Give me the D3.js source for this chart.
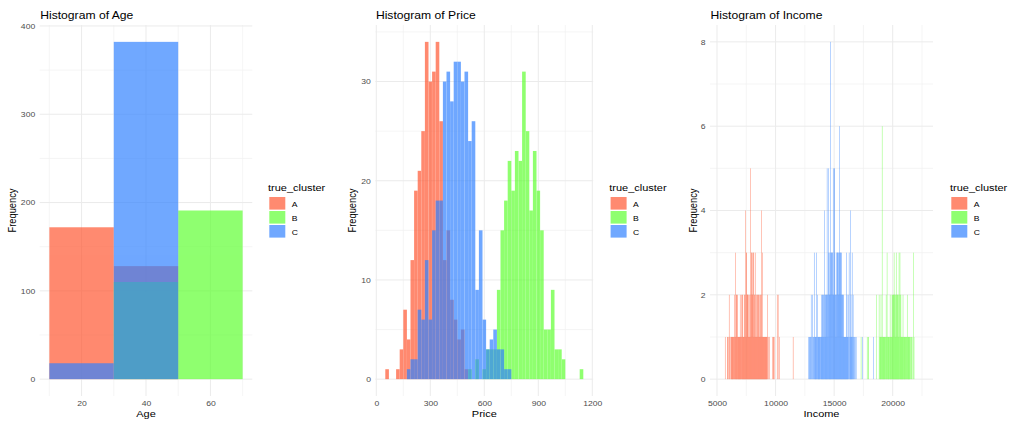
<!DOCTYPE html>
<html>
<head>
<meta charset="utf-8">
<script src="https://cdn.jsdelivr.net/npm/d3@7"></script>
<style>
body { margin: 0; background: #fff; }
text { font-family: "Liberation Sans", Arial, sans-serif; }
</style>
</head>
<body>
<svg width="1009" height="421"></svg>
<script>
// ---- data ----
const clusters = ['A', 'B', 'C'];
const clusterColors = ['#FF5833', '#60FF33', '#3383FF'];

// Age: bins of width 20
const ageEdges = [10, 30, 50, 70];
const ageA = [172, 128, 0];
const ageB = [0, 110, 191];
const ageC = [18, 382, 0];

// Price: bins of width 20, first bin 50-70 (centre 60) ... last 1130-1150
const priceFirstEdge = 50;
const priceA = [1, 0, 0, 1, 3, 7, 4, 12, 19, 21, 25, 34, 30, 31, 34, 26, 12, 15, 8, 6, 4, 5, 1,
  0, 0, 0, 0, 0, 0, 0, 0, 0, 0, 0, 0, 0, 0, 0, 0, 0, 0, 0, 0, 0, 0, 0, 0, 0, 0, 0, 0, 0, 0, 0, 0];
const priceB = [0, 0, 0, 0, 0, 0, 0, 0, 0, 0, 0, 0, 0, 0, 0, 0, 0, 0, 0, 0, 0, 0, 0,
  1, 0, 2, 0, 1, 3, 3, 3, 9, 15, 18, 22, 19, 23, 22, 31, 25, 17, 23, 19, 15, 5, 5, 9, 3, 3, 2,
  0, 0, 0, 0, 1];
const priceC = [0, 0, 0, 0, 0, 0, 1, 2, 2, 7, 6, 12, 6, 15, 18, 18, 30, 31, 28, 32, 32, 30, 31,
  24, 26, 9, 15, 6, 3, 4, 5, 3, 3, 1, 1, 0, 0, 0, 0, 0, 0, 0, 0, 0, 0, 0, 0, 0, 0, 0, 0, 0, 0, 0, 0];

// Income: bins of width 20, [bin start, count] for the non-empty bins
const incomeA = [
  [5680,1],[5860,1],[5880,1],[5940,1],[6020,2],[6040,1],[6120,1],
  [6200,1],[6220,1],[6240,1],[6260,1],[6280,1],[6300,1],[6320,1],[6340,1],
  [6380,1],[6400,1],[6420,1],[6460,2],[6480,1],[6500,1],
  [6540,3],[6560,1],[6580,1],[6600,1],[6620,2],[6640,2],[6660,1],[6680,2],
  [6720,2],[6740,1],[6760,1],[6780,1],[6800,1],[6820,1],[6840,1],[6860,1],
  [6880,1],[6900,1],[6920,1],[6940,1],[6960,2],[6980,1],[7000,1],[7020,1],
  [7060,2],[7080,1],[7100,1],[7120,1],[7140,2],[7160,2],[7180,1],[7200,1],
  [7220,1],[7240,1],[7260,1],[7280,1],[7300,2],[7320,1],[7340,2],[7360,1],
  [7380,1],[7400,4],[7420,2],[7440,1],[7460,1],[7480,3],[7500,3],[7520,1],[7540,2],
  [7560,2],[7580,2],[7600,2],[7620,2],[7640,2],[7660,1],[7680,1],[7700,1],
  [7720,1],[7740,2],[7760,1],[7780,1],[7800,1],[7820,5],[7840,1],[7860,2],[7880,1],
  [7900,3],[7920,3],[7940,2],[7960,1],[7980,2],[8000,3],[8020,2],[8040,2],[8060,1],
  [8080,3],[8100,1],[8120,3],[8140,1],[8160,2],[8180,1],[8200,2],[8220,1],
  [8240,3],[8260,1],[8280,1],[8300,2],[8320,1],[8340,2],[8360,1],[8380,1],[8400,1],
  [8420,2],[8440,1],[8460,2],[8480,1],[8500,2],[8520,2],[8540,1],[8560,1],
  [8580,2],[8600,1],[8620,1],[8640,1],[8660,2],[8680,2],[8700,1],[8720,1],[8740,1],
  [8760,4],[8780,2],[8800,1],[8820,1],[8840,1],[8860,3],[8880,1],[8900,1],[8920,1],
  [8940,1],[8960,1],[8980,1],[9000,1],[9020,1],[9040,1],[9060,1],[9080,1],
  [9100,1],[9120,1],[9140,1],[9160,1],[9180,1],[9200,1],[9220,1],[9240,1],[9260,1],
  [9300,2],[9360,1],[9440,1],[9700,1],[9780,1],[9800,1],[9860,1],
  [10120,2],[10200,2],[10300,1],[11480,1]
];
const incomeB = [
  [17280,1],[17800,1],[17880,1],[17900,1],[18580,2],[18820,2],[18840,1],
  [18900,1],[18920,1],[18940,1],[18960,1],[18980,2],[19000,1],[19040,1],
  [19060,1],[19080,6],[19100,1],[19120,1],[19160,1],[19180,1],[19200,1],[19220,1],
  [19240,1],[19260,1],[19280,1],[19300,1],[19340,1],[19360,1],
  [19400,1],[19420,2],[19440,1],[19460,1],[19500,3],[19520,1],[19560,1],
  [19580,1],[19600,1],[19620,1],[19640,1],[19660,1],[19700,1],[19720,1],
  [19760,2],[19780,1],[19800,1],[19820,1],[19840,1],[19860,1],[19880,1],
  [19920,2],[19940,1],[19960,2],[19980,1],[20000,2],[20020,2],[20040,2],[20060,2],[20080,1],
  [20100,3],[20120,2],[20140,1],[20160,2],[20180,2],[20200,1],[20220,2],[20240,1],
  [20260,1],[20280,3],[20300,2],[20320,1],[20340,2],[20360,2],[20380,1],[20400,2],
  [20420,2],[20440,1],[20460,2],[20480,1],[20500,1],[20520,3],[20540,2],[20560,1],
  [20600,3],[20620,1],[20640,2],[20660,1],[20680,2],[20700,1],[20720,1],[20740,1],
  [20760,1],[20780,1],[20800,1],[20820,1],[20840,1],[20860,2],[20880,1],[20900,1],
  [20940,1],[20960,1],[20980,1],[21000,1],[21020,1],[21040,1],[21060,1],[21080,1],
  [21120,1],[21140,1],[21160,1],[21200,1],[21220,2],[21240,1],
  [21280,1],[21300,1],[21320,1],[21340,1],[21360,1],[21380,1],[21400,1],[21420,1],
  [21460,1],[21500,1],[21560,1],[21580,1],[21640,1],[21740,3],[21800,1]
];
const incomeC = [
  [12780,1],[12860,1],[12900,1],[12940,1],[12980,1],[13020,2],[13060,1],
  [13120,2],[13160,1],[13200,1],[13240,1],[13280,3],[13300,1],[13340,1],
  [13360,1],[13380,1],[13400,1],[13420,1],[13460,3],[13480,1],[13500,1],
  [13540,2],[13560,1],[13600,1],[13620,1],[13640,1],[13660,1],[13680,1],
  [13700,1],[13720,1],[13740,1],[13760,1],[13800,1],[13820,1],[13860,1],
  [13880,2],[13900,1],[13920,1],[13940,1],[13960,2],[13980,2],[14000,1],[14020,1],
  [14040,2],[14060,1],[14080,2],[14100,1],[14140,4],[14160,1],[14180,2],[14200,1],
  [14220,2],[14240,2],[14260,1],[14280,1],[14300,2],[14320,2],[14340,2],[14360,1],
  [14380,5],[14400,2],[14420,2],[14440,1],[14480,5],[14500,2],[14520,3],[14540,1],
  [14560,3],[14580,2],[14600,2],[14620,2],[14640,2],[14660,8],[14680,3],[14700,2],
  [14720,3],[14740,3],[14760,3],[14780,2],[14820,3],[14840,2],[14860,3],[14880,2],
  [14900,5],[14920,2],[14940,2],[14960,2],[14980,5],[15000,5],[15020,2],[15040,3],
  [15060,2],[15080,2],[15100,1],[15120,2],[15140,1],[15160,3],[15180,2],[15200,2],[15220,1],
  [15240,3],[15260,3],[15280,3],[15300,2],[15320,3],[15340,2],[15360,3],[15380,2],
  [15400,2],[15420,6],[15440,3],[15460,3],[15480,2],[15500,3],[15520,3],[15540,2],[15560,3],
  [15580,2],[15600,3],[15620,2],[15640,1],[15660,2],[15680,2],[15700,1],[15720,2],
  [15740,2],[15760,1],[15780,2],[15800,1],[15820,1],[15840,1],[15860,1],[15880,1],[15900,1],
  [15920,1],[15940,1],[15960,1],[15980,1],[16000,1],[16020,3],[16040,1],[16060,1],
  [16080,2],[16100,1],[16120,1],[16140,1],[16160,1],[16180,2],[16220,1],
  [16260,3],[16280,1],[16340,1],[16360,4],[16380,1],[16400,1],
  [16420,2],[16440,1],[16460,1],[16480,1],[16520,3],[16540,1],[16580,1],
  [16600,2],[16640,1],[16680,1],[16720,1],[16780,1],[16860,1],[17380,1],[18320,1]
];

// ---- helpers ----
const svg = d3.select('svg');
const SX = 1.18;               // picture is stretched horizontally
const panelTop = 25, panelBottom = 396;

// turn a series into [lo, hi, count] bars
function binsFromEdges(edges, counts) {
  return counts.map((c, i) => [edges[i], edges[i + 1], c]);
}
function binsFromStart(start, width, counts) {
  return counts.map((c, i) => [start + i * width, start + (i + 1) * width, c]);
}
function binsFromPairs(pairs, width) {
  return pairs.map(p => [p[0], p[0] + width, p[1]]);
}

function addText(g, x, y, str, size, opts = {}) {
  return g.append('text')
    .attr('transform', `translate(${x},${y}) scale(${SX},1)` + (opts.rotate ? ` rotate(${opts.rotate})` : ''))
    .attr('font-size', size)
    .attr('fill', opts.fill || '#000')
    .attr('text-anchor', opts.anchor || 'start')
    .text(str);
}

function drawPanel(cfg) {
  let g = svg.append('g');
  let x = d3.scaleLinear().domain(cfg.xDomain).range([cfg.left, cfg.right]);
  let y = d3.scaleLinear().domain(cfg.yDomain).range([panelBottom, panelTop]);
  let minW = cfg.minBarWidth || 0;

  // grid
  let grid = g.append('g');
  grid.selectAll('.ymin').data(cfg.yMinor).join('line')
    .attr('x1', cfg.left).attr('x2', cfg.right)
    .attr('y1', d => y(d)).attr('y2', d => y(d))
    .attr('stroke', '#F0F0F0').attr('stroke-width', 0.7);
  grid.selectAll('.xmin').data(cfg.xMinor).join('line')
    .attr('y1', panelTop).attr('y2', panelBottom)
    .attr('x1', d => x(d)).attr('x2', d => x(d))
    .attr('stroke', '#F0F0F0').attr('stroke-width', 0.7);
  grid.selectAll('.ymaj').data(cfg.yTicks).join('line')
    .attr('x1', cfg.left).attr('x2', cfg.right)
    .attr('y1', d => y(d)).attr('y2', d => y(d))
    .attr('stroke', '#EBEBEB').attr('stroke-width', 1);
  grid.selectAll('.xmaj').data(cfg.xTicks).join('line')
    .attr('y1', panelTop).attr('y2', panelBottom)
    .attr('x1', d => x(d)).attr('x2', d => x(d))
    .attr('stroke', '#EBEBEB').attr('stroke-width', 1);

  // bars, A then B then C; alpha applied per cluster layer
  cfg.series.forEach((bins, i) => {
    g.append('g').attr('opacity', 0.7)
      .selectAll('rect').data(bins.filter(b => b[2] > 0)).join('rect')
      .attr('x', d => x(d[0]))
      .attr('width', d => Math.max(x(d[1]) - x(d[0]), minW))
      .attr('y', d => y(d[2]))
      .attr('height', d => y(0) - y(d[2]))
      .attr('fill', clusterColors[i]);
  });

  // axes
  let pad = 4.5;
  let ya = g.append('g').attr('transform', `translate(${cfg.left},0)`)
    .call(d3.axisLeft(y).tickValues(cfg.yTicks).tickSize(0).tickPadding(pad / SX).tickFormat(d3.format('d')));
  let xa = g.append('g').attr('transform', `translate(0,${panelBottom})`)
    .call(d3.axisBottom(x).tickValues(cfg.xTicks).tickSize(0).tickPadding(4.8).tickFormat(d3.format('d')));
  [ya, xa].forEach(a => {
    a.select('.domain').remove();
    a.selectAll('text')
      .attr('font-size', 7.3)
      .attr('font-family', '"Liberation Sans", Arial, sans-serif')
      .attr('fill', '#4D4D4D')
      .attr('transform', `scale(${SX},1)`);
  });

  // titles
  addText(g, cfg.left + 0.5, 19, cfg.title, 10.3);
  addText(g, (cfg.left + cfg.right) / 2, 417.3, cfg.xLabel, 9.3, { anchor: 'middle' });
  addText(g, cfg.yLabelX, (panelTop + panelBottom) / 2, 'Frequency', 9.3, { anchor: 'middle', rotate: -90 });

  // legend
  let lx = cfg.legendX;
  addText(g, lx, 190.5, 'true_cluster', 9.3);
  clusters.forEach((c, i) => {
    g.append('rect')
      .attr('x', lx + 1.3).attr('y', 197 + i * 14)
      .attr('width', 16).attr('height', 12.6)
      .attr('fill', clusterColors[i]).attr('fill-opacity', 0.7);
    addText(g, lx + 23.7, 206.6 + i * 14, c, 7.3);
  });
}

drawPanel({
  left: 39.7, right: 252.3,
  xDomain: [7, 73], yDomain: [-19.1, 401.1],
  xTicks: [20, 40, 60], xMinor: [10, 30, 50, 70],
  yTicks: [0, 100, 200, 300, 400], yMinor: [50, 150, 250, 350],
  series: [binsFromEdges(ageEdges, ageA), binsFromEdges(ageEdges, ageB), binsFromEdges(ageEdges, ageC)],
  title: 'Histogram of Age', xLabel: 'Age', yLabelX: 15.5, legendX: 268
});

drawPanel({
  left: 375.4, right: 593.2,
  xDomain: [-5, 1205], yDomain: [-1.7, 35.7],
  xTicks: [0, 300, 600, 900, 1200], xMinor: [150, 450, 750, 1050],
  yTicks: [0, 10, 20, 30], yMinor: [5, 15, 25, 35],
  series: [binsFromStart(priceFirstEdge, 20, priceA), binsFromStart(priceFirstEdge, 20, priceB), binsFromStart(priceFirstEdge, 20, priceC)],
  title: 'Histogram of Price', xLabel: 'Price', yLabelX: 356, legendX: 609.3
});

drawPanel({
  left: 710, right: 933,
  xDomain: [4402, 23441], yDomain: [-0.4, 8.4],
  xTicks: [5000, 10000, 15000, 20000], xMinor: [7500, 12500, 17500, 22500],
  yTicks: [0, 2, 4, 6, 8], yMinor: [1, 3, 5, 7],
  minBarWidth: 0.5,
  series: [binsFromPairs(incomeA, 20), binsFromPairs(incomeB, 20), binsFromPairs(incomeC, 20)],
  title: 'Histogram of Income', xLabel: 'Income', yLabelX: 697, legendX: 950
});
</script>
</body>
</html>
